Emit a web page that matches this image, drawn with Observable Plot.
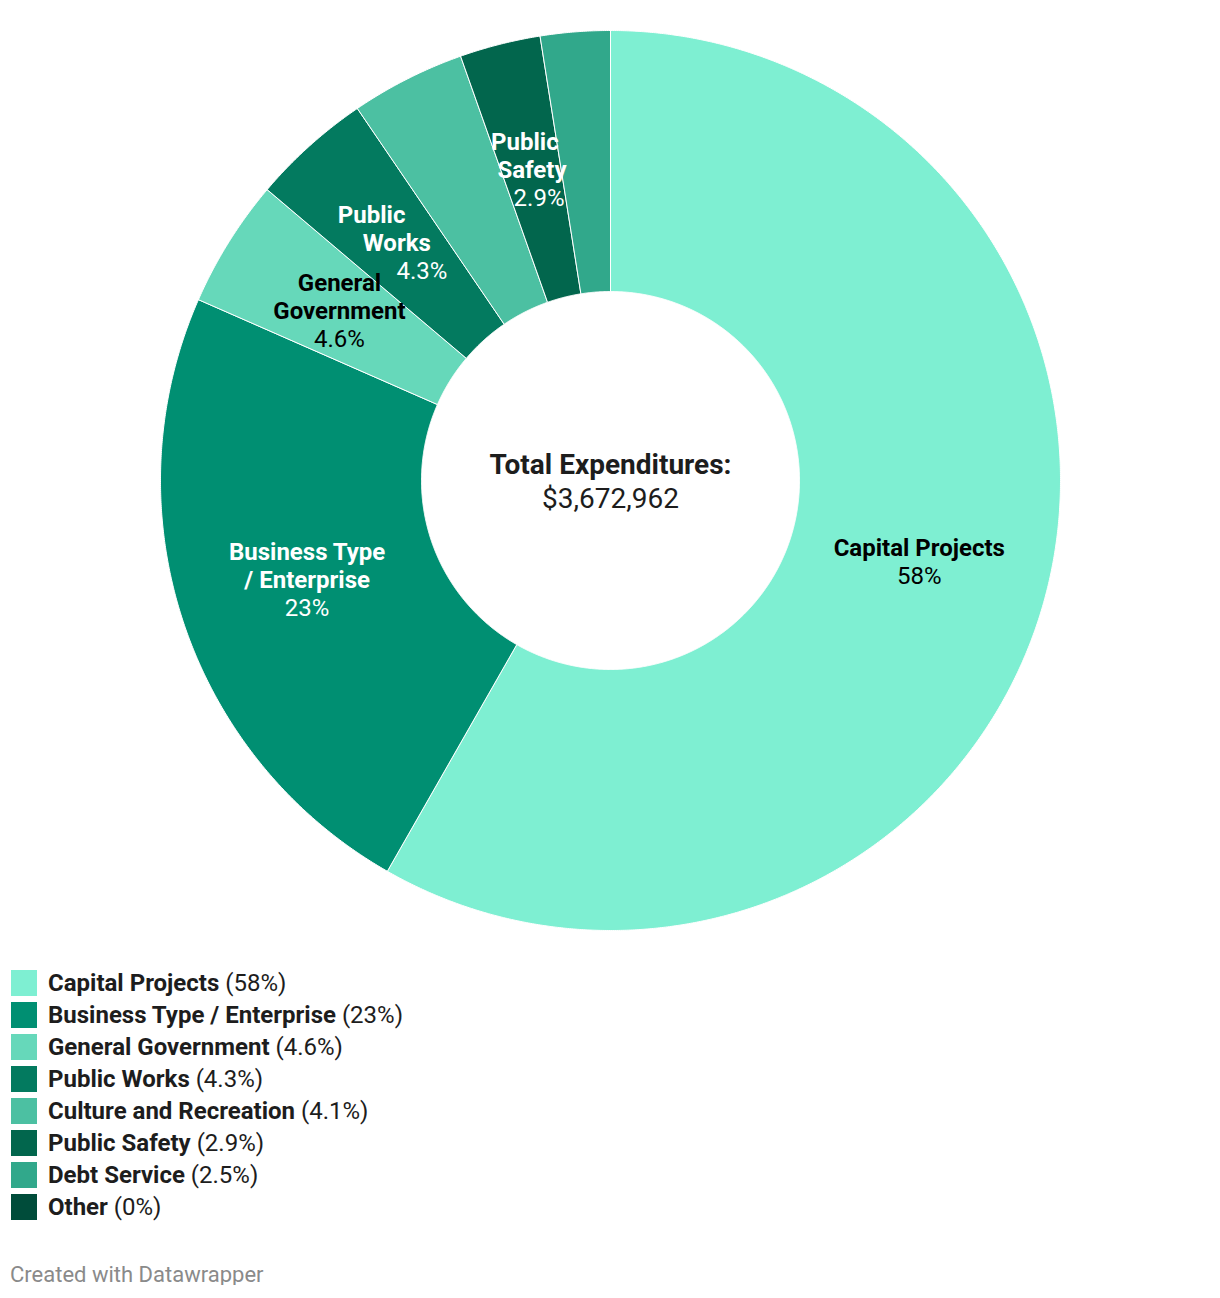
<!DOCTYPE html>
<html><head><meta charset="utf-8">
<script src="https://cdn.jsdelivr.net/npm/d3@7"></script>
<script src="https://cdn.jsdelivr.net/npm/@observablehq/plot@0.6"></script>
<style>
body{margin:0;background:#fff;font-family:Roboto,"Noto Sans",sans-serif;}
#chart svg{display:block;}
#legend{margin:7px 0 0 11px;}
.row{display:flex;align-items:center;height:32px;font-size:24px;color:#1d1d1d;white-space:nowrap;}
.sw{width:26px;height:26px;margin-right:11px;flex:none;}
.row b{font-weight:700;}
#foot{margin:42px 0 0 10px;font-size:22px;line-height:20px;color:#8a8a8a;}
</style></head><body>
<div id="chart"></div>
<div id="legend"></div>
<div id="foot">Created with Datawrapper</div>
<script>
const categories = ["Capital Projects","Business Type / Enterprise","General Government","Public Works","Culture and Recreation","Public Safety","Debt Service","Other"];
const percents = [58.2, 23.3, 4.6, 4.3, 4.1, 2.9, 2.5, 0];
const percentLabels = ["58%","23%","4.6%","4.3%","4.1%","2.9%","2.5%","0%"];
const colors = ["#7eefd2","#008f72","#66d8ba","#037a5f","#4cc0a2","#02664d","#31a88b","#004c3a"];
const sliceNames = ["Capital Projects","Business Type\n/ Enterprise","General\nGovernment","Public\nWorks","","Public\nSafety","",""];
const totalTitle = "Total Expenditures:";
const totalValue = "$3,672,962";

// layout / style settings
const darkLabel = [false,true,false,true,true,true,true,true];
const labelAlongRay = [false,false,false,true,false,true,false,false];
const innerRatio = 0.42;
const W = 1220, H = 960, mX = 160, mY = 30;
const pxPerUnit = (W - 2*mX)/2;
const lineStepPx = 28;

const data = categories.map((c,i)=>({category:c, value:percents[i], pct:percentLabels[i], name:sliceNames[i], dark:darkLabel[i], ray:labelAlongRay[i]}));
const arcs = d3.pie().sort(null).value(d=>d.value)(data);

// polygon points of each donut slice in unit data space
const points = [];
for (const a of arcs) {
  const a0 = a.startAngle, a1 = a.endAngle;
  const n = Math.max(2, Math.ceil((a1-a0)/(Math.PI/720)));
  const ring = [];
  for (let k=0;k<=n;k++){const t=a0+(a1-a0)*k/n; ring.push([Math.sin(t),Math.cos(t)]);}
  for (let k=n;k>=0;k--){const t=a0+(a1-a0)*k/n; ring.push([innerRatio*Math.sin(t),innerRatio*Math.cos(t)]);}
  ring.push(ring[0]);
  for (const [x,y] of ring) points.push({category:a.data.category, x, y});
}

// one text datum per label line, centred on the slice centroid
const rMid = (1+innerRatio)/2;
const lines = [];
for (const a of arcs) {
  if (!a.data.name) continue;
  const m = (a.startAngle+a.endAngle)/2;
  const cx = rMid*Math.sin(m), cy = rMid*Math.cos(m);
  const parts = a.data.name.split("\n").map(t=>({t, bold:true})).concat([{t:a.data.pct, bold:false}]);
  const N = parts.length;
  parts.forEach((p,i)=>{
    const dyPx = (i-(N-1)/2)*lineStepPx;      // downward offset in px
    const dxPx = a.data.ray ? -dyPx*Math.tan(m) : 0;
    lines.push({x:cx+dxPx/pxPerUnit, y:cy-dyPx/pxPerUnit, text:p.t, bold:p.bold, dark:a.data.dark});
  });
}

const textOpts = {x:"x", y:"y", text:"text", fontSize:24, lineAnchor:"middle", fontFamily:"Roboto"};
const sel = (dark,bold)=>lines.filter(d=>d.dark===dark && d.bold===bold);

const chart = Plot.plot({
  width:W, height:H,
  marginLeft:mX, marginRight:mX, marginTop:mY, marginBottom:mY,
  x:{domain:[-1,1], axis:null},
  y:{domain:[-1,1], axis:null},
  color:{domain:categories, range:colors},
  style:{fontFamily:"Roboto", background:"white"},
  marks:[
    Plot.line(points,{x:"x", y:"y", z:"category", fill:"category", stroke:"white", strokeWidth:1, curve:"linear"}),
    Plot.text(sel(false,true),{...textOpts, fill:"black", fontWeight:"bold"}),
    Plot.text(sel(false,false),{...textOpts, fill:"black"}),
    Plot.text(sel(true,true),{...textOpts, fill:"white", fontWeight:"bold"}),
    Plot.text(sel(true,false),{...textOpts, fill:"white"}),
    Plot.text([totalTitle+"\n"],{x:0, y:0, text:d=>d, fontSize:28, lineHeight:1.21, lineAnchor:"middle", fontWeight:"bold", fill:"#1d1d1d"}),
    Plot.text(["\n"+totalValue],{x:0, y:0, text:d=>d, fontSize:28, lineHeight:1.21, lineAnchor:"middle", fill:"#1d1d1d"})
  ]
});
document.getElementById("chart").appendChild(chart);

const colorScale = chart.scale("color");
const legend = document.getElementById("legend");
data.forEach((d,i)=>{
  const row=document.createElement("div"); row.className="row";
  const sw=document.createElement("div"); sw.className="sw"; sw.style.background=colorScale.range[colorScale.domain.indexOf(d.category)];
  const t=document.createElement("span"); t.innerHTML="<b></b> ";
  t.querySelector("b").textContent=d.category;
  t.appendChild(document.createTextNode("("+d.pct+")"));
  row.appendChild(sw); row.appendChild(t); legend.appendChild(row);
});
</script>
</body></html>
